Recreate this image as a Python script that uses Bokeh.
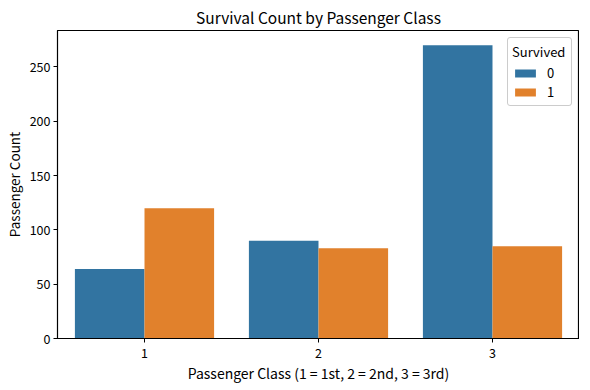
from bokeh.plotting import figure
from bokeh.models import ColumnDataSource, Legend, LegendItem, FixedTicker, Range1d
from bokeh.transform import dodge
from bokeh.embed import file_html
from bokeh.resources import INLINE

classes = ["1", "2", "3"]
died = [64, 90, 270]
survived = [120, 83, 85]
yticks = [0, 50, 100, 150, 200, 250]

FONT = "Noto Sans CJK SC"
src = ColumnDataSource(dict(cls=classes, died=died, survived=survived))

p = figure(x_range=classes, y_range=Range1d(0, 283.5), frame_width=522, frame_height=308,
           output_backend="svg", toolbar_location=None,
           min_border_left=48, min_border_right=0, min_border_bottom=38, min_border_top=8)
p.title.text = "Survival Count by Passenger Class"
p.title.align = "center"
p.title.text_font = FONT
p.title.text_font_size = "15.5px"
p.title.text_font_style = "normal"
p.title.text_color = "black"
p.title.standoff = 6

r0 = p.vbar(x=dodge("cls", -0.2, range=p.x_range), top="died", width=0.4, source=src,
            color="#3274A1", line_color=None)
r1 = p.vbar(x=dodge("cls", 0.2, range=p.x_range), top="survived", width=0.4, source=src,
            color="#E1812C", line_color=None)

p.xgrid.visible = False
p.ygrid.visible = False
p.outline_line_color = "black"
p.outline_line_width = 1.2
p.outline_line_alpha = 1

for ax in (p.xaxis, p.yaxis):
    ax.axis_line_color = "black"
    ax.major_tick_line_color = "black"
    ax.major_tick_out = 4
    ax.major_tick_in = 0
    ax.minor_tick_line_color = None
    ax.major_label_text_font = FONT
    ax.major_label_text_font_size = "12.5px"
    ax.major_label_text_color = "black"
    ax.axis_label_text_font = FONT
    ax.axis_label_text_font_size = "14px"
    ax.axis_label_text_font_style = "normal"
    ax.axis_label_text_color = "black"

p.yaxis.axis_label_text_font_size = "13.5px"
p.yaxis.ticker = FixedTicker(ticks=yticks)
p.xaxis.axis_label = "Passenger Class (1 = 1st, 2 = 2nd, 3 = 3rd)"
p.yaxis.axis_label = "Passenger Count"
p.xaxis.axis_label_standoff = 2
p.yaxis.axis_label_standoff = 3
p.xaxis.major_label_standoff = 5
p.yaxis.major_label_standoff = 3

legend = Legend(items=[LegendItem(label="0", renderers=[r0]),
                       LegendItem(label="1", renderers=[r1])],
                location="top_right", title="Survived")
legend.title_text_font = FONT
legend.title_text_font_size = "13px"
legend.title_text_font_style = "normal"
legend.title_text_color = "black"
legend.title_standoff = 2
legend.label_text_font = FONT
legend.label_text_font_size = "13px"
legend.label_text_color = "black"
legend.border_line_color = "#cccccc"
legend.border_line_alpha = 1
legend.background_fill_alpha = 0.8
legend.glyph_width = 26
legend.glyph_height = 10
legend.label_height = 13
legend.label_standoff = 9
legend.spacing = 0
legend.padding = 4
legend.margin = 7
try:
    legend.border_radius = 3
except Exception:
    pass
p.add_layout(legend)

open("out.html", "w").write(file_html(p, INLINE))
